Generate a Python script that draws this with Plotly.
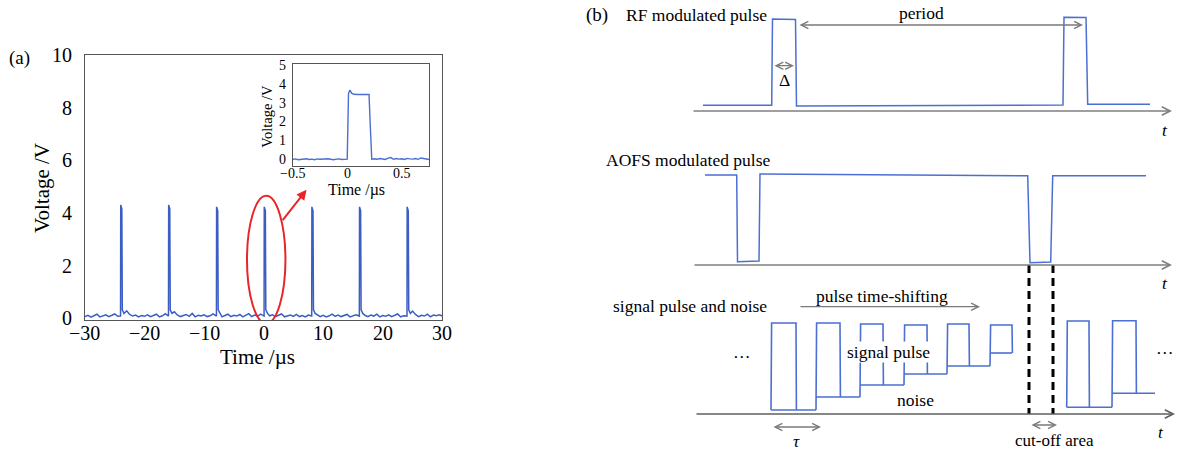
import numpy as np
import plotly.graph_objects as go

# ---------------- data: panel (a) main trace ----------------
time_grid = np.arange(-30, 30.001, 0.5)          # µs sampling grid
noise_v = [
    0.06, 0.11, 0.04, 0.09, 0.15, 0.05, 0.08, 0.13, 0.06, 0.10,
    0.16, 0.07, 0.12, 0.09, 0.28, 0.14, 0.08, 0.12, 0.05, 0.10,
    0.07, 0.13, 0.06, 0.11, 0.15, 0.05, 0.09, 0.17, 0.06, 0.10,
    0.24, 0.12, 0.06, 0.10, 0.14, 0.07, 0.18, 0.05, 0.11, 0.08,
    0.13, 0.06, 0.09, 0.16, 0.07, 0.12, 0.05, 0.10, 0.15, 0.06,
    0.11, 0.08, 0.14, 0.05, 0.10, 0.17, 0.06, 0.12, 0.08, 0.15,
    0.10, 0.22, 0.09, 0.13, 0.06, 0.11, 0.16, 0.05, 0.09, 0.12,
    0.07, 0.14, 0.06, 0.10, 0.05, 0.12, 0.21, 0.08, 0.13, 0.06,
    0.11, 0.05, 0.09, 0.15, 0.07, 0.12, 0.06, 0.10, 0.14, 0.05,
    0.09, 0.13, 0.07, 0.25, 0.11, 0.06, 0.12, 0.08, 0.15, 0.05,
    0.10, 0.07, 0.13, 0.06, 0.11, 0.16, 0.05, 0.09, 0.12, 0.07,
    0.27, 0.14, 0.06, 0.11, 0.08, 0.15, 0.05, 0.12, 0.09, 0.13,
    0.08,
]
pulse_t = [-24.0, -15.95, -7.9, 0.1, 8.1, 16.1, 24.1]   # µs
pulse_h = [4.30, 4.30, 4.23, 4.23, 4.23, 4.23, 4.23]   # V
pulse_w = 0.22                                        # µs
ring_v = 0.32                                         # V after-pulse ripple
main_xticks = [-30, -20, -10, 0, 10, 20, 30]
main_yticks = [0, 2, 4, 6, 8, 10]

# ---------------- data: inset ----------------
inset_pre_t = np.arange(-0.5, -0.001, 0.025)
inset_pre_v = [-0.02, 0.01, -0.03, 0.00, -0.01, 0.02, -0.02, 0.00, -0.03, 0.01,
               -0.01, 0.00, -0.02, 0.02, -0.01, -0.03, 0.00, 0.01, -0.02, 0.00]
inset_pulse_t = [0.0, 0.012, 0.025, 0.04, 0.06, 0.10, 0.15, 0.20, 0.212, 0.225]
inset_pulse_v = [0.0, 3.50, 3.67, 3.50, 3.44, 3.43, 3.43, 3.43, 1.70, 0.0]
inset_post_t = np.arange(0.25, 0.751, 0.025)
inset_post_v = [0.02, -0.01, 0.03, 0.00, -0.02, 0.05, 0.08, -0.01, 0.03, 0.00,
                0.02, -0.02, 0.04, 0.01, 0.00, 0.03, -0.01, 0.06, 0.02, 0.00, -0.02]
inset_xticks = [-0.5, 0, 0.5]
inset_yticks = [0, 1, 2, 3, 4, 5]

# ---------------- data: panel (b) schematic (drawing units) ----------------
rf_t = [703, 771.7, 772.5, 795.5, 796.5, 1063, 1064, 1086, 1087.7, 1150]
rf_v = [105.3, 105.3, 19, 19.5, 106, 105, 17.3, 17.5, 104.3, 104.3]
aofs_t = [705, 736.7, 737.5, 759, 760, 1027.7, 1030, 1050.7, 1052.7, 1146]
aofs_v = [175, 175, 261.7, 261, 174, 175.7, 262.7, 262, 175.7, 175.7]
sig1_start = [771, 816, 860, 904, 947, 990]
sig1_end = [796, 840, 883, 927, 969, 1012]
sig1_top = [323, 323, 324, 325, 324, 325]
sig1_level = [410, 397, 385, 374, 366, 353]
sig1_stop = 1012
sig2_start = [1066.7, 1112]
sig2_end = [1089, 1136]
sig2_top = [321, 320.7]
sig2_level = [407.3, 393.3]
sig2_stop = 1155
cutoff_t = [1029, 1053]
cutoff_span = [265, 414]

W, H = 1188, 451
FONT = "Liberation Serif"


def px(x):
    return x / W


def py(y):
    return 1 - y / H


def fmt(v):
    s = ("%g" % v)
    return s.replace("-", "\u2212")


# build main trace
pts = list(zip(time_grid, noise_v))
for p, h in zip(pulse_t, pulse_h):
    pts = [(t, v) for (t, v) in pts if not (p - 0.15 <= t <= p + 0.6)]
    pts += [(p - 0.03, 0.08), (p, h), (p + pulse_w * 0.85, h - 0.15),
            (p + pulse_w * 1.2, ring_v), (p + 0.55, 0.18)]
pts.sort(key=lambda a: a[0])
tt = [a[0] for a in pts]
vv = [a[1] for a in pts]

fig = go.Figure()
fig.add_trace(go.Scatter(x=tt, y=vv, mode="lines",
                         line=dict(color="#3c5ec2", width=1.5),
                         xaxis="x", yaxis="y", hoverinfo="skip"))

inset_t = list(inset_pre_t) + inset_pulse_t + list(inset_post_t)
inset_v = inset_pre_v + inset_pulse_v + inset_post_v
fig.add_trace(go.Scatter(x=inset_t, y=inset_v, mode="lines",
                         line=dict(color="#4a6ed4", width=1.4),
                         xaxis="x2", yaxis="y2", hoverinfo="skip"))

BLUE_B = "#4b6fd2"
fig.add_trace(go.Scatter(x=rf_t, y=rf_v, mode="lines",
                         line=dict(color=BLUE_B, width=1.5),
                         xaxis="x3", yaxis="y3", hoverinfo="skip"))
fig.add_trace(go.Scatter(x=aofs_t, y=aofs_v, mode="lines",
                         line=dict(color=BLUE_B, width=1.5),
                         xaxis="x3", yaxis="y3", hoverinfo="skip"))


def steps(starts, ends, tops, levels, stop):
    xs, ys = [], []
    prev = levels[0]
    for k in range(len(starts)):
        xs += [starts[k], starts[k] + 0.6, ends[k], ends[k] + 0.4, None]
        ys += [prev, tops[k], tops[k], levels[k], None]
        nxt = starts[k + 1] if k + 1 < len(starts) else stop
        xs += [starts[k], nxt, None]
        ys += [levels[k], levels[k], None]
        prev = levels[k]
    return xs, ys


for args in [(sig1_start, sig1_end, sig1_top, sig1_level, sig1_stop),
             (sig2_start, sig2_end, sig2_top, sig2_level, sig2_stop)]:
    sx, sy = steps(*args)
    fig.add_trace(go.Scatter(x=sx, y=sy, mode="lines",
                             line=dict(color=BLUE_B, width=1.6),
                             xaxis="x3", yaxis="y3", hoverinfo="skip"))

for c in cutoff_t:
    fig.add_trace(go.Scatter(x=[c, c], y=cutoff_span, mode="lines",
                             line=dict(color="black", width=3, dash="8px,5px"),
                             xaxis="x3", yaxis="y3", hoverinfo="skip"))

tickfont = dict(family=FONT, size=20, color="black")
insfont = dict(family=FONT, size=14, color="black")
frame = dict(showline=True, mirror=True, linecolor="#555", linewidth=1,
             showgrid=False, zeroline=False, ticks="", ticklen=0,
             automargin=False)

fig.update_layout(
    width=W, height=H, margin=dict(l=0, r=0, t=0, b=0, autoexpand=False),
    paper_bgcolor="white", plot_bgcolor="rgba(0,0,0,0)", showlegend=False,
    xaxis=dict(domain=[px(85), px(442.3)], range=[-30, 30],
               tickvals=main_xticks, showticklabels=False,
               anchor="y", **frame),
    yaxis=dict(domain=[py(320), py(55)], range=[-0.07, 10],
               tickvals=main_yticks, tickfont=tickfont,
               ticklabelstandoff=8, anchor="x", **frame),
    xaxis2=dict(domain=[px(292.7), px(429)], range=[-0.5, 0.75],
                tickvals=inset_xticks, showticklabels=False, anchor="y2", **frame),
    yaxis2=dict(domain=[py(165.7), py(64)], range=[-0.35, 5.05],
                tickvals=inset_yticks, tickfont=insfont,
                ticklabelstandoff=3, anchor="x2", **frame),
    xaxis3=dict(domain=[px(590), 1], range=[590, 1188], visible=False,
                anchor="y3", fixedrange=True, automargin=False),
    yaxis3=dict(domain=[0, 1], range=[451, 0], visible=False,
                anchor="x3", fixedrange=True, automargin=False),
)

# red ellipse + arrow in panel (a)
fig.add_shape(type="circle", xref="x", yref="y", x0=-2.8, x1=3.66, y0=-0.2, y1=4.65,
              line=dict(color="#e8262a", width=2))
ann = []
ann.append(dict(xref="x", yref="y", axref="x", ayref="y", x=7.2, y=4.88, ax=3.0, ay=3.67,
                text="", showarrow=True, arrowhead=2, arrowsize=1, arrowwidth=2,
                arrowcolor="#e8262a"))

# x tick labels (placed under their axes)
for v in main_xticks:
    ann.append(dict(xref="x", yref="paper", x=v, y=py(333), text=fmt(v),
                    showarrow=False, xanchor="center", yanchor="middle",
                    font=tickfont))
for v in inset_xticks:
    ann.append(dict(xref="x2", yref="paper", x=v, y=py(173.5), text=fmt(v),
                    showarrow=False, xanchor="center", yanchor="middle",
                    font=insfont))


def ptext(text, x, y, size, angle=0, xanchor="center"):
    return dict(xref="paper", yref="paper", x=px(x), y=py(y), text=text,
                showarrow=False, xanchor=xanchor, yanchor="middle", textangle=angle,
                font=dict(family=FONT, size=size, color="black"))


ann.append(ptext("(a)", 19, 58, 19))
ann.append(ptext("Voltage /V", 42, 188, 21, angle=-90))
ann.append(ptext("Time /µs", 257, 357, 21))
ann.append(ptext("Voltage /V", 266.7, 116, 14.5, angle=-90))
ann.append(ptext("Time /µs", 356.7, 190, 16))


def btext(text, x, y, size=17.5, xanchor="center", bg=None):
    d = dict(xref="x3", yref="y3", x=x, y=y, text=text, showarrow=False,
             xanchor=xanchor, yanchor="middle",
             font=dict(family=FONT, size=size, color="black"))
    if bg:
        d["bgcolor"] = bg
        d["borderpad"] = 0
    return d


def barrow(x0, y0, x1, y1, both=False, width=1.3, color="#7a7a7a"):
    d = dict(xref="x3", yref="y3", axref="x3", ayref="y3", x=x1, y=y1, ax=x0, ay=y0,
             text="", showarrow=True, arrowhead=5, arrowsize=1.1, arrowwidth=width,
             arrowcolor=color, standoff=0, startstandoff=0)
    if both:
        d["arrowside"] = "end+start"
        d["startarrowhead"] = 5
        d["startarrowsize"] = 1.1
    return d


ann.append(btext("(b)", 597, 15, 19))
ann.append(btext("RF modulated pulse", 624, 15, xanchor="left"))
ann.append(btext("period", 921.7, 13))
ann.append(btext("Δ", 784, 80))
ann.append(btext("<i>t</i>", 1165, 130))
ann.append(btext("AOFS modulated pulse", 604, 160, xanchor="left"))
ann.append(btext("<i>t</i>", 1165, 283))
ann.append(btext("signal pulse and noise", 611, 306, xanchor="left"))
ann.append(btext("pulse time-shifting", 881.7, 296))
ann.append(btext("signal pulse", 888, 352, bg="white"))
ann.append(btext("noise", 915, 400))
ann.append(btext("…", 741.7, 352))
ann.append(btext("…", 1165, 348))
ann.append(btext("<i>τ</i>", 796.7, 441))
ann.append(btext("<i>t</i>", 1161, 432))
ann.append(btext("cut-off area", 1054, 440, size=17))

ann.append(barrow(692, 111, 1172, 111, width=1.5, color="#808080"))
ann.append(barrow(693, 265, 1172, 265, width=1.5, color="#808080"))
ann.append(barrow(695, 414, 1175, 414, width=1.5, color="#606060"))
ann.append(barrow(798, 25, 1083, 25, both=True))
ann.append(barrow(773, 65.7, 794, 65.7, both=True))
ann.append(barrow(799, 306.7, 980, 306.7))
ann.append(barrow(772, 427, 821, 427, both=True))
ann.append(barrow(1030, 425, 1057, 425, both=True))

fig.update_layout(annotations=ann)
fig.write_html("out.html")
